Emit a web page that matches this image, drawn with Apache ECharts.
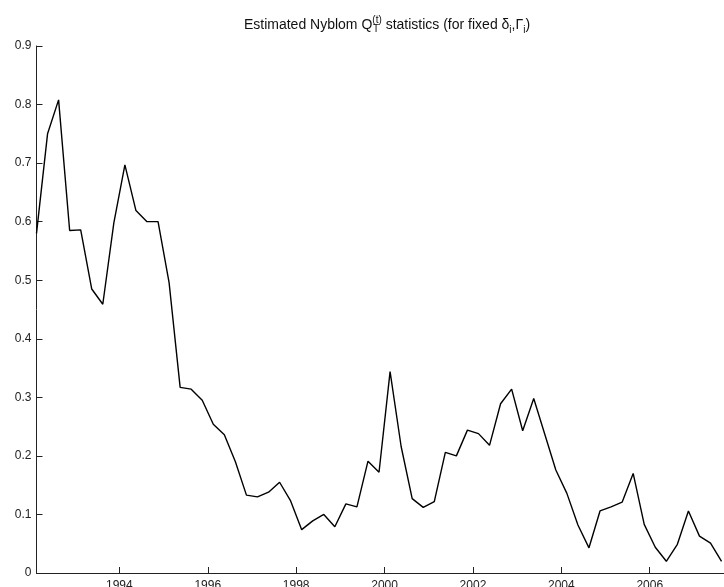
<!DOCTYPE html>
<html>
<head>
<meta charset="utf-8">
<script src="https://cdn.jsdelivr.net/npm/echarts@6/dist/echarts.min.js"></script>
<style>html,body{margin:0;padding:0;background:#fff}#c{width:724px;height:587px}</style>
</head>
<body>
<div id="c"></div>
<script>
// quarterly observation times (years)
const startYear = 1992.125;
const stepYear = 0.25;
// estimated Nyblom statistics
const values = [0.580,0.750,0.808,0.585,0.586,0.485,0.459,0.598,0.697,0.619,0.600,0.600,0.496,0.317,0.314,0.295,0.254,0.236,0.190,0.133,0.130,0.138,0.155,0.123,0.074,0.089,0.100,0.079,0.118,0.113,0.191,0.172,0.344,0.216,0.127,0.112,0.122,0.206,0.200,0.244,0.238,0.218,0.289,0.314,0.243,0.298,0.237,0.176,0.136,0.082,0.043,0.106,0.113,0.121,0.170,0.083,0.044,0.020,0.049,0.106,0.063,0.051,0.020];
const times = values.map((v, i) => startYear + i * stepYear);
const xTicks = [1994, 1996, 1998, 2000, 2002, 2004, 2006];
const yTicks = [0, 0.1, 0.2, 0.3, 0.4, 0.5, 0.6, 0.7, 0.8, 0.9];

const chart = echarts.init(document.getElementById('c'));
const font = 'Liberation Sans, Arial, sans-serif';
chart.setOption({
  animation: false,
  backgroundColor: '#fff',
  title: {
    text: 'Estimated Nyblom Q{sup|(t)} statistics (for fixed δ{sub|i},Γ{sub|i})',
    left: 382, top: 10, textAlign: 'center',
    textStyle: {
      fontFamily: font, fontSize: 14, fontWeight: 'normal', color: '#111',
      rich: {
        sup: {fontFamily: font, fontSize: 10, color: '#111', verticalAlign: 'top', padding: [0, 0, 10, 0]},
        sub: {fontFamily: font, fontSize: 10, color: '#111', verticalAlign: 'bottom', padding: [7, 0, 0, 0]}
      }
    }
  },
  graphic: [{
    type: 'text', id: 'subT', left: 373, top: 24,
    style: {text: 'T', font: '10px ' + font, fill: '#111'}
  }],
  grid: {left: 36.5, right: 0, top: 46, bottom: 14, containLabel: false, outerBoundsMode: 'none'},
  xAxis: {
    type: 'value', min: startYear, max: 2007.68,
    axisLine: {show: true, lineStyle: {color: '#222', width: 1}},
    axisTick: {show: true, inside: true, length: 6, customValues: xTicks, lineStyle: {color: '#222'}},
    axisLabel: {customValues: xTicks, margin: 7, fontFamily: font, fontSize: 12, color: '#222', formatter: v => String(v)},
    splitLine: {show: false}
  },
  yAxis: {
    type: 'value', min: 0, max: 0.9, interval: 0.1,
    axisLine: {show: true, lineStyle: {color: '#222', width: 1}},
    axisTick: {show: true, inside: true, length: 6, lineStyle: {color: '#222'}},
    axisLabel: {margin: 5, fontFamily: font, fontSize: 12, color: '#222', formatter: v => v === 0 ? '0' : v.toFixed(1)},
    splitLine: {show: false}
  },
  series: [{
    type: 'line',
    data: times.map((t, i) => [t, values[i]]),
    showSymbol: false,
    lineStyle: {color: '#000', width: 1.4},
    clip: true
  }]
});
</script>
</body>
</html>
